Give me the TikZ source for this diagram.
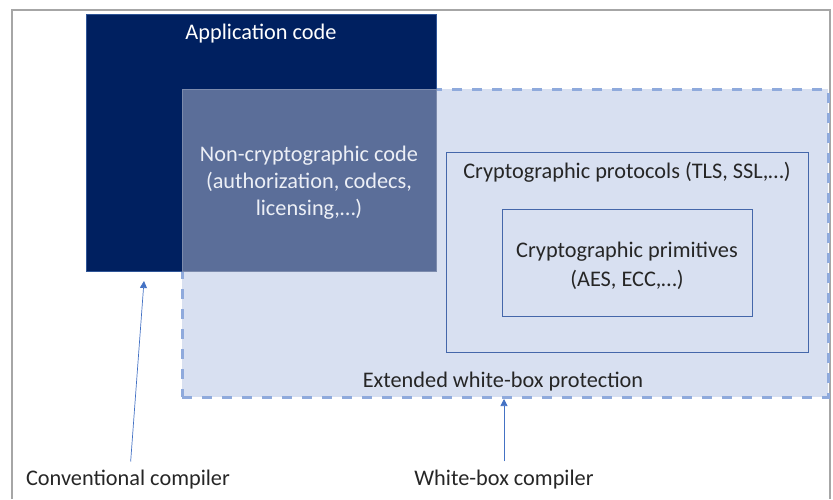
\documentclass[tikz,border=0pt]{standalone}
\usepackage{fontspec}
\setmainfont{Carlito}
\usetikzlibrary{arrows.meta,positioning}
\definecolor{navy}{RGB}{0,32,96}
\definecolor{navyedge}{RGB}{47,85,151}
\definecolor{overlap}{RGB}{91,110,153}
\definecolor{wbfill}{RGB}{216,224,241}
\definecolor{wbdash}{RGB}{143,170,220}
\definecolor{boxline}{RGB}{68,103,170}
\definecolor{pointer}{RGB}{68,114,196}
\definecolor{frame}{RGB}{166,166,166}
\definecolor{ink}{RGB}{38,38,38}
\definecolor{paleink}{RGB}{236,239,246}

\begin{document}
\begin{tikzpicture}[x=1pt,y=-1pt,
    every node/.style={font=\fontsize{22.3}{27}\selectfont,inner sep=0pt,outer sep=0pt},
    wbbox/.style={fill=wbfill,draw=wbdash,line width=3pt,dash pattern=on 10pt off 10pt},
    appbox/.style={fill=navy,draw=navyedge,line width=0.8pt},
    sharedbox/.style={fill=overlap,draw=overlap!80!white,line width=0.6pt},
    cryptobox/.style={draw=boxline,line width=0.9pt},
    caption/.style={text=ink,align=center},
    ptr/.style={draw=pointer,line width=0.7pt,-{Triangle[length=7pt,width=7pt]}}]
  \useasboundingbox (0,0) rectangle (833,499);
  % frame round the figure
  \draw[frame,line width=2.5pt] (12,499) -- (12,10) -- (830,10) -- (830,499);

  % extended white-box region
  \node[wbbox,anchor=north west,minimum width=646pt,minimum height=308pt] (wb) at (182,89) {};
  % application code
  \node[appbox,anchor=north west,minimum width=350pt,minimum height=257pt] (app) at (86,14) {};
  \node[text=white] (apptitle) at (261,34) {Application code};
  \node[sharedbox,anchor=north west,minimum width=254pt,minimum height=182pt] (noncrypto) at (182,89) {};
  \node[caption,text=paleink] (noncryptotext) at (309,182.5)
    {Non-cryptographic code\\(authorization, codecs,\\licensing,\dots)};

  % nested crypto layers
  \node[cryptobox,anchor=north west,minimum width=362pt,minimum height=200pt] (proto) at (446,152) {};
  \node[caption] (prototitle) at (627,172) {Cryptographic protocols (TLS, SSL,\dots)};
  \node[cryptobox,anchor=north west,minimum width=250pt,minimum height=107pt] (prim) at (502,209) {};
  \node[caption,font=\fontsize{22.3}{29}\selectfont] (primtext) at (627,266)
    {Cryptographic primitives\\(AES, ECC,\dots)};
  \node[caption] (wbtitle) at (503,382) {Extended white-box protection};

  % compilers
  \node[caption] (conv) at (128,480) {Conventional compiler};
  \node[caption] (wbc) at (504,480) {White-box compiler};
  \coordinate (convtip) at (144,281);
  \draw[ptr,shorten <=9pt] ([xshift=2pt]conv.north) -- (convtip);
  \draw[ptr,shorten <=9pt,shorten >=2pt] (wbc.north) -- (wbc.north |- wb.south);
\end{tikzpicture}
\end{document}
